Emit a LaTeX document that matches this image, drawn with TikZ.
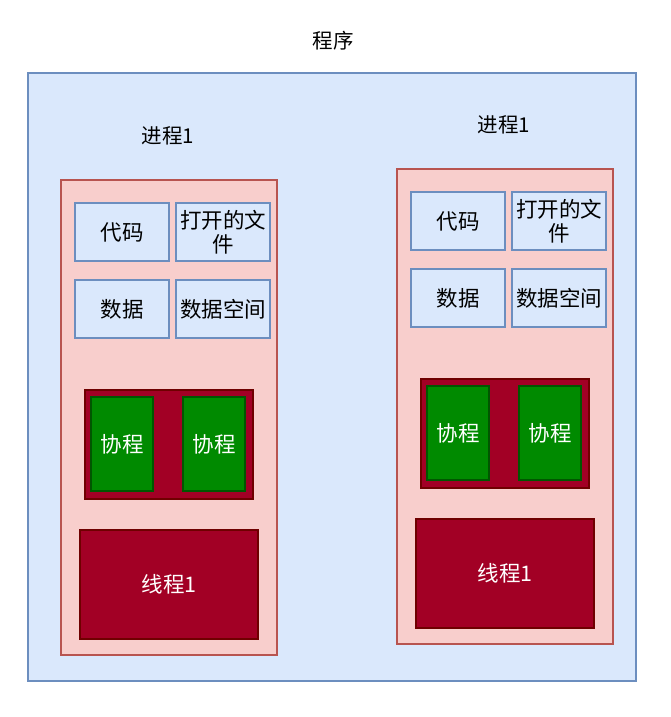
\documentclass[tikz,border=0pt]{standalone}
\usepackage{fontspec}
\setmainfont{Noto Sans CJK SC}
\usetikzlibrary{positioning}
\definecolor{blueFill}{HTML}{DAE8FC}
\definecolor{blueLine}{HTML}{6C8EBF}
\definecolor{redFill}{HTML}{F8CECC}
\definecolor{redLine}{HTML}{B85450}
\definecolor{darkRed}{HTML}{A20025}
\definecolor{darkRedLine}{HTML}{6F0000}
\definecolor{green}{HTML}{008A00}
\definecolor{greenLine}{HTML}{005700}

\begin{document}
\begin{tikzpicture}[
    x=1pt, y=-1pt,
    every node/.style={font=\fontsize{21.5}{24}\selectfont, inner sep=0pt, outer sep=0pt},
    frame/.style={rectangle, draw=blueLine, fill=blueFill, line width=1.3pt, anchor=north west},
    proc/.style={rectangle, draw=redLine, fill=redFill, line width=1.3pt, anchor=north west,
                 minimum width=216pt, minimum height=475pt},
    res/.style={rectangle, draw=blueLine, fill=blueFill, line width=1.3pt, anchor=north west,
                minimum width=94pt, minimum height=58pt, align=center, text width=92pt},
    coset/.style={rectangle, draw=darkRedLine, fill=darkRed, line width=1.3pt, anchor=north west,
                  minimum width=168pt, minimum height=109pt},
    coro/.style={rectangle, draw=greenLine, fill=green, line width=1.3pt, anchor=north west,
                 minimum width=62pt, minimum height=94pt, text=white},
    thread/.style={rectangle, draw=darkRedLine, fill=darkRed, line width=1.3pt, anchor=north west,
                   minimum width=178pt, minimum height=109pt, text=white},
    caption/.style={text=black, font=\fontsize{20.5}{24}\selectfont}
]
\useasboundingbox (0,0) rectangle (671,717);

% Program
\node[caption] (prog) at (333,41) {程序};
\node[frame, minimum width=608pt, minimum height=608pt] (frame) at (28,73) {};

% Left process
\node[caption] (lplabel) at (168,136) {进程1};
\node[proc] (lp) at (61,180) {};
\node[res] (lcode) at (75,203) {代码};
\node[res] (lfile) at (176,203) {打开的文\\件};
\node[res] (ldata) at (75,280) {数据};
\node[res] (lspace) at (176,280) {数据空间};
\node[coset] (lcoset) at (85,390) {};
\node[coro] (lco1) at (91,397) {协程};
\node[coro] (lco2) at (183,397) {协程};
\node[thread] (lthread) at (80,530) {线程1};

% Right process
\node[caption] (rplabel) at (504,125) {进程1};
\node[proc] (rp) at (397,169) {};
\node[res] (rcode) at (411,192) {代码};
\node[res] (rfile) at (512,192) {打开的文\\件};
\node[res] (rdata) at (411,269) {数据};
\node[res] (rspace) at (512,269) {数据空间};
\node[coset] (rcoset) at (421,379) {};
\node[coro] (rco1) at (427,386) {协程};
\node[coro] (rco2) at (519,386) {协程};
\node[thread] (rthread) at (416,519) {线程1};

\end{tikzpicture}
\end{document}
